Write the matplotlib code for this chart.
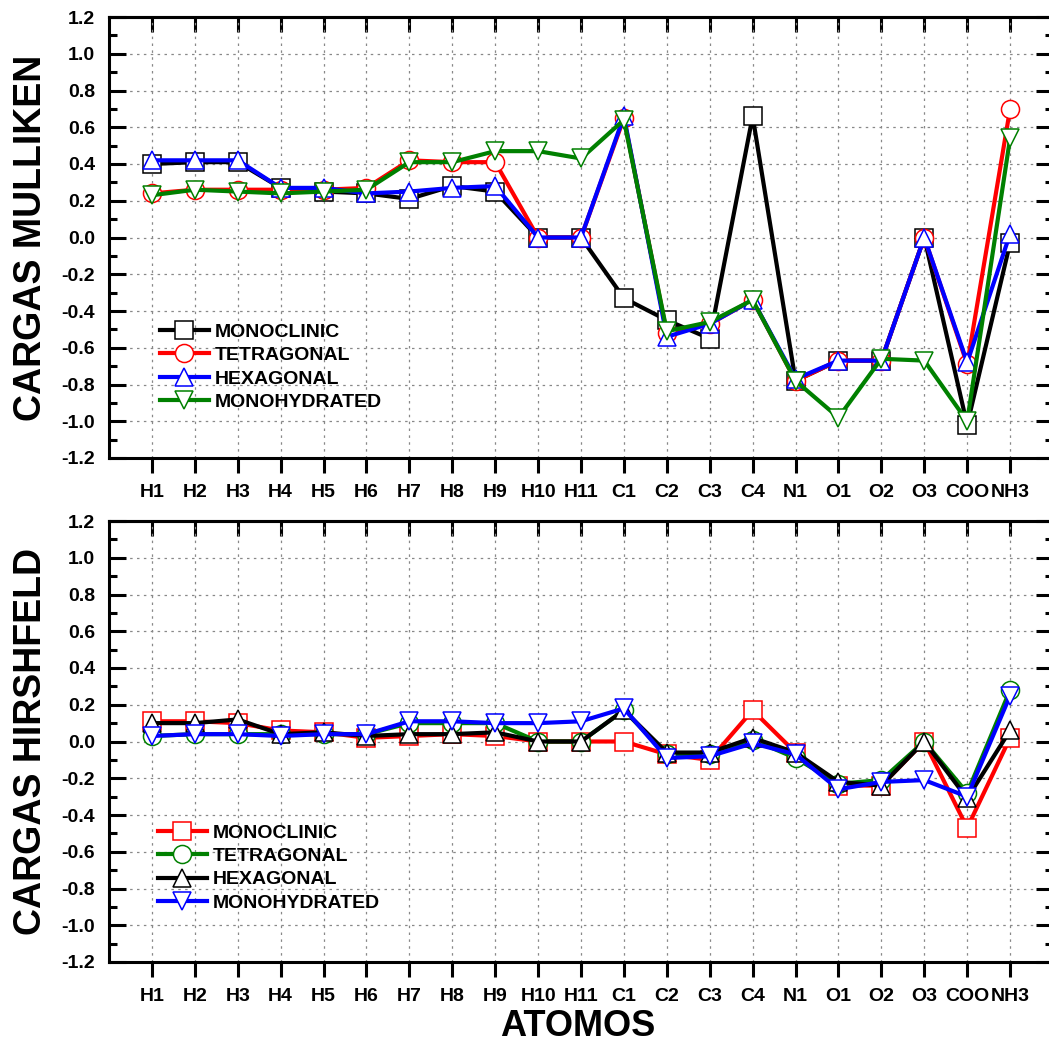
import numpy as np
import matplotlib
matplotlib.use("Agg")
import matplotlib.pyplot as plt
from matplotlib.ticker import MultipleLocator
from matplotlib import font_manager

plt.rcParams["font.family"] = ["Liberation Sans", "DejaVu Sans"]
plt.rcParams["font.weight"] = "bold"

# condensed face for the big titles, if there is one
installed = {f.name for f in font_manager.fontManager.ttflist}
if "Liberation Sans Narrow" in installed:
    title_font = ["Liberation Sans Narrow"]
    ylab_size, xlab_size = 32, 30
else:
    title_font = ["Liberation Sans", "DejaVu Sans"]
    ylab_size, xlab_size = 27, 26

atoms = ["H1", "H2", "H3", "H4", "H5", "H6", "H7", "H8", "H9", "H10", "H11",
         "C1", "C2", "C3", "C4", "N1", "O1", "O2", "O3", "COO", "NH3"]

# Mulliken charges
mono_m = [0.40, 0.41, 0.41, 0.27, 0.25, 0.24, 0.21, 0.28, 0.25, 0.0, 0.0,
          -0.33, -0.45, -0.55, 0.66, -0.78, -0.67, -0.67, 0.0, -1.02, -0.03]
tetra_m = [0.24, 0.26, 0.26, 0.26, 0.26, 0.27, 0.42, 0.41, 0.41, 0.0, 0.0,
           0.65, -0.52, -0.47, -0.34, -0.78, -0.67, -0.67, 0.0, -0.69, 0.70]
hexa_m = [0.42, 0.42, 0.42, 0.27, 0.27, 0.24, 0.25, 0.27, 0.28, 0.0, 0.0,
          0.66, -0.54, -0.47, -0.34, -0.77, -0.67, -0.67, 0.0, -0.68, 0.02]
hydr_m = [0.23, 0.26, 0.25, 0.24, 0.25, 0.26, 0.41, 0.41, 0.47, 0.47, 0.43,
          0.64, -0.51, -0.46, -0.34, -0.78, -0.98, -0.66, -0.67, -1.00, 0.54]

# Hirshfeld charges
mono_h = [0.11, 0.11, 0.10, 0.06, 0.05, 0.02, 0.03, 0.04, 0.03, 0.0, 0.0,
          0.0, -0.07, -0.10, 0.17, -0.06, -0.24, -0.24, 0.0, -0.47, 0.02]
tetra_h = [0.03, 0.04, 0.04, 0.04, 0.04, 0.04, 0.10, 0.10, 0.10, 0.0, 0.0,
           0.17, -0.07, -0.07, 0.01, -0.09, -0.23, -0.21, 0.0, -0.28, 0.28]
hexa_h = [0.10, 0.10, 0.12, 0.04, 0.05, 0.03, 0.04, 0.04, 0.05, 0.0, 0.0,
          0.17, -0.06, -0.06, 0.02, -0.06, -0.22, -0.24, 0.0, -0.31, 0.06]
hydr_h = [0.03, 0.04, 0.04, 0.03, 0.04, 0.04, 0.11, 0.11, 0.10, 0.10, 0.11,
          0.18, -0.09, -0.08, -0.01, -0.07, -0.26, -0.22, -0.21, -0.30, 0.25]

names = ["MONOCLINIC", "TETRAGONAL", "HEXAGONAL", "MONOHYDRATED"]
markers = ["s", "o", "^", "v"]

x = np.arange(1, len(atoms) + 1)

fig = plt.figure(figsize=(10.49, 10.48), dpi=100)
W, H = 1049, 1048


def panel(top_px, series, colors, ylabel, leg_xy):
    ax = fig.add_axes([109 / W, 1 - (top_px + 441) / H, 944 / W, 441 / H])
    for vals, c, m, n in zip(series, colors, markers, names):
        ax.plot(x, vals, color=c, lw=3, marker=m, ms=13, mfc="white",
                mec=c, mew=1.1, label=n)
    ax.set_xlim(0, 22)
    ax.set_ylim(-1.2, 1.2)
    ax.set_xticks(x)
    ax.set_xticklabels(atoms)
    ax.yaxis.set_major_locator(MultipleLocator(0.2))
    ax.yaxis.set_minor_locator(MultipleLocator(0.1))
    ax.set_yticklabels([f"{v:.1f}" for v in ax.get_yticks()])
    ax.grid(True, which="major", color="#888888", lw=0.9, ls=(0, (2, 3.5)))
    ax.tick_params(axis="x", direction="out", length=11, width=2.2,
                   labelsize=14, pad=8, top=False)
    ax.tick_params(axis="y", which="major", direction="in", length=12,
                   width=2.2, labelsize=14, pad=10, left=True, right=True)
    ax.tick_params(axis="y", which="minor", direction="in", length=6,
                   width=2.2, left=True, right=True)
    for s in ax.spines.values():
        s.set_linewidth(2.2)
    sec = ax.secondary_xaxis("top")
    sec.set_xticks(x)
    sec.tick_params(direction="in", length=11, width=2.2, labeltop=False)
    sec.spines["top"].set_linewidth(2.2)
    ax.set_ylabel(ylabel, fontsize=ylab_size, fontweight="bold",
                  family=title_font)
    ax.yaxis.set_label_coords(-0.064, 0.5)
    ax.legend(loc="upper left", bbox_to_anchor=leg_xy, frameon=False,
              fontsize=14, handlelength=2.5, handletextpad=0.3,
              labelspacing=0.3, borderpad=0, borderaxespad=0)
    return ax


panel(17, [mono_m, tetra_m, hexa_m, hydr_m],
      ["black", "red", "blue", "green"], "CARGAS MULLIKEN", (0.054, 0.306))
panel(521, [mono_h, tetra_h, hexa_h, hydr_h],
      ["red", "green", "black", "blue"], "CARGAS HIRSHFELD", (0.052, 0.313))

fig.text(578 / W, 1 - 1027 / H, "ATOMOS", fontsize=xlab_size,
         fontweight="bold", ha="center", va="center", family=title_font)

fig.savefig("out.png", dpi=100)
